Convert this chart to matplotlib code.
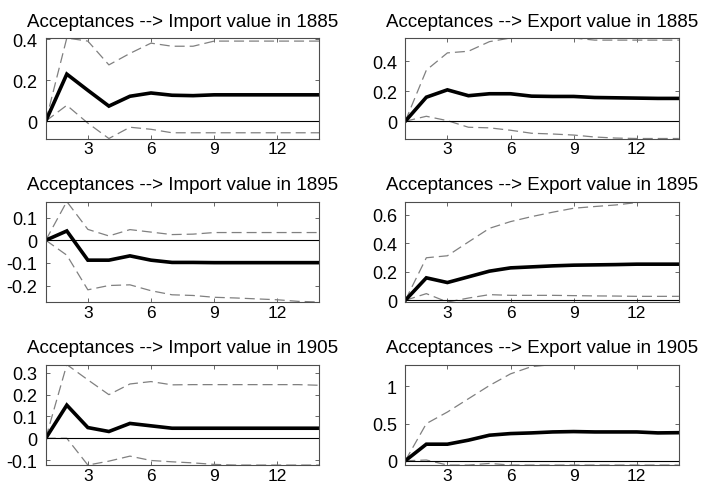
import numpy as np
import matplotlib
matplotlib.use("Agg")
import matplotlib.pyplot as plt
from matplotlib.ticker import FuncFormatter

plt.rcParams['font.family'] = ['Liberation Sans', 'DejaVu Sans']
plt.rcParams['axes.unicode_minus'] = False

horizon = np.arange(1, 15)

titles = [
    "Acceptances --> Import value in 1885",
    "Acceptances --> Export value in 1885",
    "Acceptances --> Import value in 1895",
    "Acceptances --> Export value in 1895",
    "Acceptances --> Import value in 1905",
    "Acceptances --> Export value in 1905",
]

# median impulse responses
imp_1885 = [0, 0.229, 0.15, 0.073, 0.121, 0.137, 0.126, 0.124, 0.128, 0.128, 0.128, 0.128, 0.128, 0.128]
exp_1885 = [0, 0.16, 0.209, 0.17, 0.183, 0.183, 0.167, 0.165, 0.165, 0.158, 0.156, 0.154, 0.152, 0.152]
imp_1895 = [0, 0.041, -0.088, -0.088, -0.069, -0.088, -0.098, -0.098, -0.099, -0.099, -0.099, -0.099, -0.099, -0.099]
exp_1895 = [0, 0.158, 0.125, 0.165, 0.205, 0.228, 0.235, 0.242, 0.247, 0.249, 0.251, 0.254, 0.254, 0.254]
imp_1905 = [0, 0.152, 0.049, 0.031, 0.068, 0.057, 0.046, 0.046, 0.046, 0.046, 0.046, 0.046, 0.046, 0.046]
exp_1905 = [0, 0.223, 0.223, 0.277, 0.344, 0.366, 0.375, 0.388, 0.393, 0.388, 0.388, 0.388, 0.375, 0.378]

# upper bands
imp_1885_hi = [0, 0.405, 0.39, 0.274, 0.33, 0.38, 0.365, 0.365, 0.39, 0.39, 0.39, 0.39, 0.39, 0.39]
exp_1885_hi = [0, 0.34, 0.455, 0.466, 0.53, 0.554, 0.554, 0.554, 0.554, 0.54, 0.54, 0.54, 0.54, 0.54]
imp_1895_hi = [0, 0.171, 0.048, 0.019, 0.047, 0.036, 0.025, 0.027, 0.034, 0.034, 0.034, 0.034, 0.034, 0.034]
exp_1895_hi = [0, 0.299, 0.313, 0.41, 0.506, 0.553, 0.588, 0.619, 0.647, 0.659, 0.67, 0.687, 0.694, 0.694]
imp_1905_hi = [0, 0.338, 0.268, 0.2, 0.249, 0.26, 0.245, 0.246, 0.246, 0.246, 0.246, 0.246, 0.246, 0.243]
exp_1905_hi = [0, 0.5, 0.656, 0.835, 1.013, 1.17, 1.268, 1.295, 1.295, 1.295, 1.295, 1.295, 1.295, 1.295]

# lower bands
imp_1885_lo = [0, 0.077, -0.01, -0.085, -0.03, -0.04, -0.057, -0.057, -0.057, -0.057, -0.057, -0.057, -0.057, -0.057]
exp_1885_lo = [0, 0.033, 0.004, -0.04, -0.044, -0.06, -0.08, -0.085, -0.092, -0.105, -0.112, -0.115, -0.115, -0.115]
imp_1895_lo = [0, -0.066, -0.219, -0.2, -0.197, -0.223, -0.241, -0.244, -0.252, -0.255, -0.259, -0.263, -0.27, -0.273]
exp_1895_lo = [0, 0.047, -0.012, 0.016, 0.04, 0.035, 0.035, 0.035, 0.033, 0.031, 0.03, 0.028, 0.028, 0.028]
imp_1905_lo = [0, 0.0, -0.123, -0.105, -0.082, -0.102, -0.108, -0.113, -0.12, -0.123, -0.123, -0.123, -0.123, -0.123]
exp_1905_lo = [0, 0.01, -0.058, -0.058, -0.036, -0.058, -0.058, -0.058, -0.058, -0.058, -0.058, -0.058, -0.058, -0.058]

medians = [imp_1885, exp_1885, imp_1895, exp_1895, imp_1905, exp_1905]
uppers = [imp_1885_hi, exp_1885_hi, imp_1895_hi, exp_1895_hi, imp_1905_hi, exp_1905_hi]
lowers = [imp_1885_lo, exp_1885_lo, imp_1895_lo, exp_1895_lo, imp_1905_lo, exp_1905_lo]

y_ticks = [
    [0, 0.2, 0.4],
    [0, 0.2, 0.4],
    [-0.2, -0.1, 0, 0.1],
    [0, 0.2, 0.4, 0.6],
    [-0.1, 0, 0.1, 0.2, 0.3],
    [0, 0.5, 1],
]
x_ticks = [3, 6, 9, 12]

fig = plt.figure(figsize=(7.04, 4.89), dpi=100)

# axes placement (figure fraction) for the 3x2 grid
col_left = [0.065, 0.5757]
col_width = 0.3886
row_bottom = [0.7147, 0.3803, 0.0469]
row_height = 0.2055

fmt = FuncFormatter(lambda v, p: f"{v:g}")

for i in range(6):
    r, c = divmod(i, 2)
    ax = fig.add_axes([col_left[c], row_bottom[r], col_width, row_height])
    lo = lowers[i]
    hi = uppers[i]
    ax.plot(horizon, hi, color='0.5', lw=0.9, dashes=(8, 4))
    ax.plot(horizon, lo, color='0.5', lw=0.9, dashes=(8, 4))
    ax.plot(horizon, medians[i], color='black', lw=2.6, solid_joinstyle='miter')
    ax.axhline(0, color='black', lw=0.8)
    ax.set_xlim(1, 14)
    ax.set_ylim(min(lo), max(hi))
    ax.set_xticks(x_ticks)
    ax.set_yticks(y_ticks[i])
    ax.yaxis.set_major_formatter(fmt)
    ax.tick_params(direction='in', length=3, width=0.6, top=True, right=True,
                   labelsize=13, color='0.3')
    ax.tick_params(axis='x', pad=2, labelsize=12.5)
    ax.tick_params(axis='y', pad=6)
    for s in ax.spines.values():
        s.set_color('0.3')
        s.set_linewidth(0.8)
    ax.set_title(titles[i], fontsize=13.5, pad=9)

fig.savefig("out.png", dpi=100)
